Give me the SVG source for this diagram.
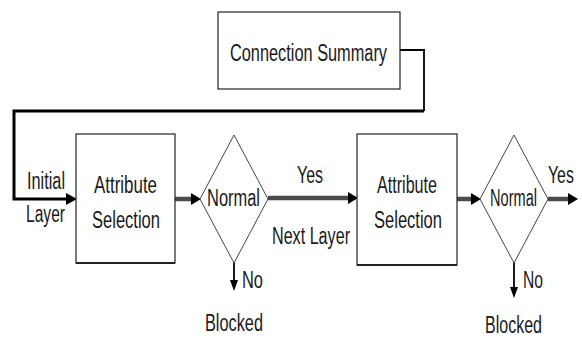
<svg xmlns="http://www.w3.org/2000/svg" width="582" height="338" viewBox="0 0 582 338">
<defs>
<style>
.box{fill:#fff;stroke:#222;stroke-width:1.2}
.dia{fill:#fff;stroke:#444;stroke-width:1}
.t{font-family:"Liberation Sans",Arial,sans-serif;font-size:23px;fill:#1a1a1a}
.flow{fill:none;stroke:#4a4a4a;stroke-width:4.5}
.blk{fill:none;stroke:#000;stroke-width:3}
.thin{fill:none;stroke:#000;stroke-width:1.8}
</style>
</defs>
<rect width="582" height="338" fill="#fff"/>
<g id="connectors">
<path class="thin" d="M400,50 H424 V111"/>
<path class="blk" d="M424,111 H14 V199 H67"/>
<path d="M66,193 L77,199 L66,205 z" fill="#000"/>
<path class="flow" d="M175,199 H192"/>
<path d="M191,193 L201,199 L191,205 z" fill="#000"/>
<path class="flow" d="M268,198 H349"/>
<path d="M348,192 L358,198 L348,204 z" fill="#000"/>
<path class="flow" d="M457,199 H472"/>
<path d="M471,193 L481,199 L471,205 z" fill="#000"/>
<path class="flow" d="M548,199 H569"/>
<path d="M568,193 L578,199 L568,205 z" fill="#000"/>
<path class="thin" d="M234,262 V282"/>
<path d="M230,280 L234,291 L238,280 z" fill="#000"/>
<path class="thin" d="M514,262 V288"/>
<path d="M510,287 L514,298 L518,287 z" fill="#000"/>
</g>
<g id="summary">
<rect class="box" x="218" y="12" width="182" height="77"/>
<text class="t" x="230" y="61" textLength="157" lengthAdjust="spacingAndGlyphs">Connection Summary</text>
</g>
<g id="attr1">
<rect class="box" x="76" y="134" width="99" height="129"/>
<path d="M76,263 H175" stroke="#222" stroke-width="2"/>
<text class="t" x="94" y="193" textLength="63" lengthAdjust="spacingAndGlyphs">Attribute</text>
<text class="t" x="92" y="228" textLength="68" lengthAdjust="spacingAndGlyphs">Selection</text>
</g>
<g id="normal1">
<polygon class="dia" points="234,135 268,199 234,263 200,199"/>
<text class="t" x="207" y="206" textLength="53" lengthAdjust="spacingAndGlyphs">Normal</text>
</g>
<g id="attr2">
<rect class="box" x="357" y="134" width="100" height="131"/>
<path d="M357,265 H457" stroke="#222" stroke-width="2"/>
<text class="t" x="377" y="193" textLength="60" lengthAdjust="spacingAndGlyphs">Attribute</text>
<text class="t" x="374" y="228" textLength="68" lengthAdjust="spacingAndGlyphs">Selection</text>
</g>
<g id="normal2">
<polygon class="dia" points="514,135 548,199 514,263 480,199"/>
<text class="t" x="490" y="206" textLength="47" lengthAdjust="spacingAndGlyphs">Normal</text>
</g>
<g id="labels">
<text class="t" x="27" y="189" textLength="38" lengthAdjust="spacingAndGlyphs">Initial</text>
<text class="t" x="26" y="222" textLength="39" lengthAdjust="spacingAndGlyphs">Layer</text>
<text class="t" x="297" y="183" textLength="26" lengthAdjust="spacingAndGlyphs">Yes</text>
<text class="t" x="272" y="244" textLength="78" lengthAdjust="spacingAndGlyphs">Next Layer</text>
<text class="t" transform="translate(548,183) scale(0.69,1)">Yes</text>
<text class="t" x="242" y="288" textLength="21" lengthAdjust="spacingAndGlyphs">No</text>
<text class="t" x="523" y="288" textLength="20" lengthAdjust="spacingAndGlyphs">No</text>
<text class="t" x="205" y="331" textLength="58" lengthAdjust="spacingAndGlyphs">Blocked</text>
<text class="t" x="485" y="333" textLength="57" lengthAdjust="spacingAndGlyphs">Blocked</text>
</g>
</svg>
